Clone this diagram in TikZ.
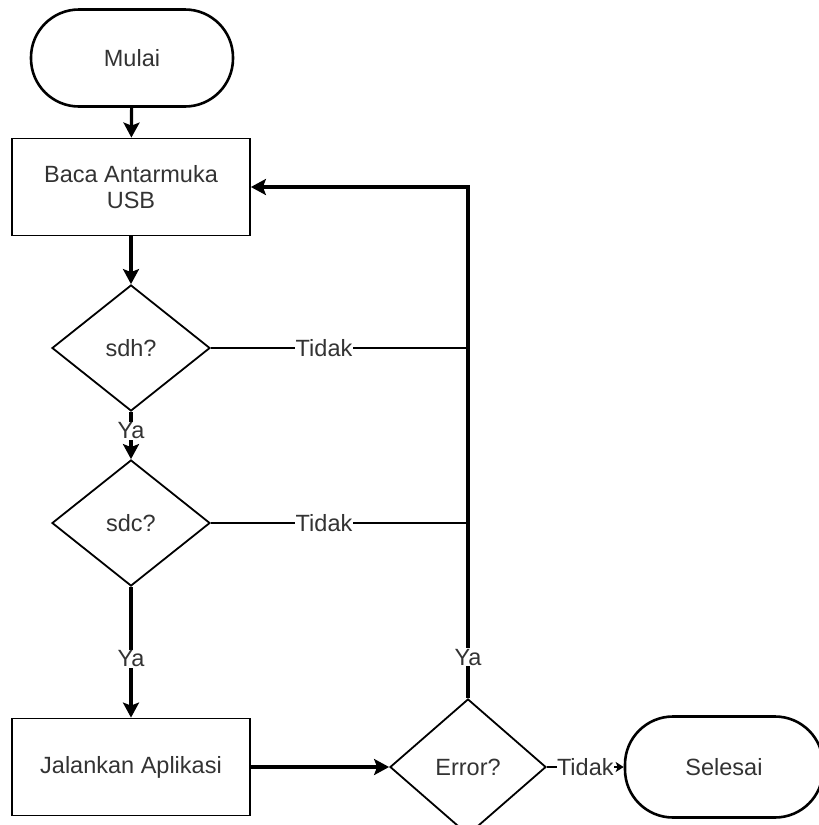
\documentclass[tikz,border=0pt]{standalone}
\usepackage{fontspec}
\setmainfont{Liberation Sans}
\usetikzlibrary{shapes.geometric,arrows.meta}
\begin{document}
\begin{tikzpicture}[x=1pt,y=-1pt,
  every node/.style={font=\fontsize{23.5}{26}\selectfont, text=black!80},
  terminal/.style={draw, line width=2.6pt, rounded corners=48pt, minimum width=202pt, minimum height=97pt, inner sep=0},
  procbox/.style={draw, line width=1.8pt, minimum width=238pt, minimum height=97pt, align=center, inner sep=0},
  decision/.style={draw, line width=1.8pt, diamond, minimum width=158pt, minimum height=126pt, inner sep=0},
  flow/.style={line width=3.2pt, -{Stealth[length=15pt,width=16pt,inset=3pt]}},
  thinline/.style={line width=2.4pt},
  lbl/.style={fill=white, inner sep=1pt}
]
\useasboundingbox (0,0) rectangle (819,825);
\clip (0,0) rectangle (819,825);
\node[terminal] (mulai) at (132,58) {Mulai};
\node[procbox] (baca) at (131,187) {Baca Antarmuka\\USB};
\node[decision] (sdh) at (131,348) {sdh?};
\node[decision] (sdc) at (131,523) {sdc?};
\node[procbox] (jalan) at (131,767) {Jalankan Aplikasi};
\node[decision, minimum width=156pt, minimum height=136pt] (err) at (468,767) {Error?};
\node[terminal, minimum height=101pt, minimum width=198pt] (selesai) at (724,767) {Selesai};
\coordinate (j1) at (468,348);
\coordinate (j2) at (468,523);
\coordinate (corner) at (468,187);

\draw[flow] (mulai) -- (baca);
\draw[flow] (baca) -- (sdh);
\draw[flow] (sdh) -- node[lbl, pos=0.4] {Ya} (sdc);
\draw[flow] (sdc) -- node[lbl, pos=0.55] {Ya} (jalan);
\draw[flow] (jalan) -- (err);
\draw[flow, line width=2.4pt, -{Stealth[length=8pt,width=10pt,inset=2pt]}] (err) -- node[lbl, inner sep=0pt] {Tidak} (selesai);
\draw[flow] (err.north) -- node[lbl, pos=0.08] {Ya} (corner) -- (baca.east);
\draw[thinline] (sdh.east) -- node[lbl, pos=0.44] {Tidak} (j1);
\draw[thinline] (sdc.east) -- node[lbl, pos=0.44] {Tidak} (j2);
\end{tikzpicture}
\end{document}
